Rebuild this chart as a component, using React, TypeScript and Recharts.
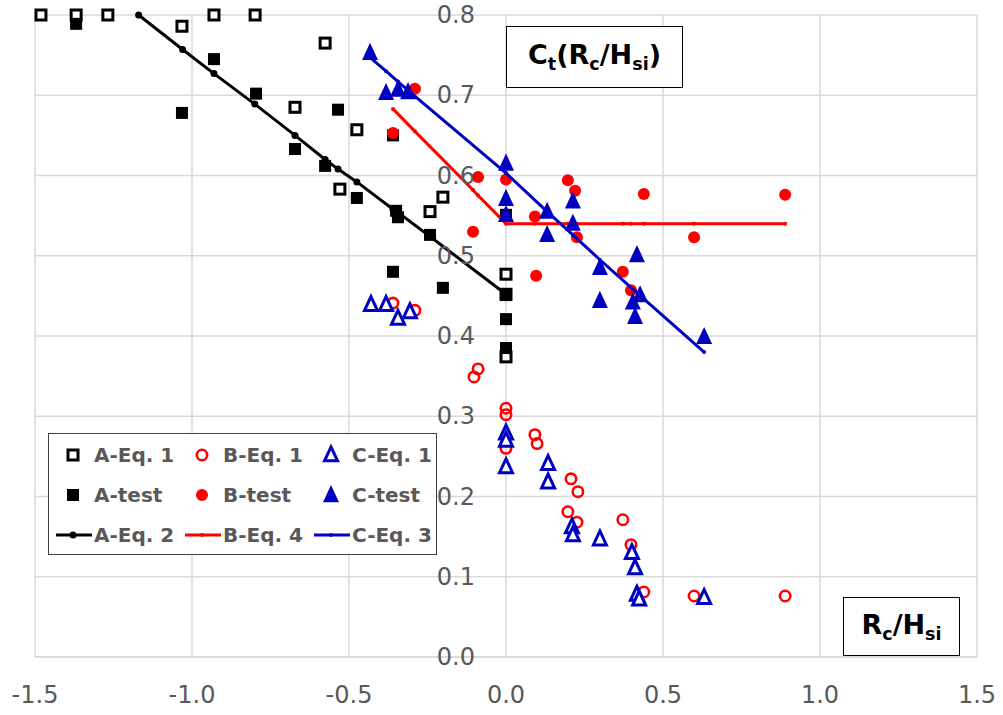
import React from 'react';
import {
  CartesianGrid,
  Scatter,
  ScatterChart,
  XAxis,
  YAxis,
} from 'recharts';

const X_TICKS = [-1.5, -1.0, -0.5, 0.0, 0.5, 1.0, 1.5];
const Y_TICKS = [0, 0.1, 0.2, 0.3, 0.4, 0.5, 0.6, 0.7, 0.8];

// A series (black)
const aEq1X = [-1.481, -1.369, -1.268, -1.032, -0.93, -0.799, -0.576, -0.672, -0.475, -0.529, -0.242, -0.201, 0, 0, 0];
const aEq1Y = [0.8, 0.8, 0.8, 0.786, 0.8, 0.8, 0.765, 0.685, 0.657, 0.583, 0.555, 0.573, 0.477, 0.452, 0.374];

const aTestX = [-1.369, -0.93, -1.032, -0.796, -0.672, -0.576, -0.535, -0.475, -0.36, -0.35, -0.344, -0.242, -0.36, -0.201, 0, 0, 0, 0];
const aTestY = [0.789, 0.745, 0.678, 0.702, 0.633, 0.612, 0.682, 0.572, 0.65, 0.556, 0.548, 0.526, 0.48, 0.46, 0.451, 0.421, 0.385, 0.551];

const aEq2X = [-1.17, -1.03, -0.93, -0.8, -0.672, -0.576, -0.535, -0.475, -0.36, -0.344, -0.242, 0];
const aEq2Y = [0.8, 0.757, 0.727, 0.689, 0.65, 0.62, 0.608, 0.592, 0.558, 0.554, 0.524, 0.452];

// B series (red)
const bEq1X = [-0.36, -0.29, -0.089, -0.102, 0, 0, 0, 0.092, 0.099, 0.207, 0.229, 0.197, 0.226, 0.372, 0.398, 0.439, 0.599, 0.889];
const bEq1Y = [0.441, 0.432, 0.359, 0.349, 0.31, 0.302, 0.26, 0.277, 0.266, 0.222, 0.206, 0.181, 0.168, 0.171, 0.14, 0.081, 0.076, 0.076];

const bTestX = [-0.29, -0.36, -0.089, 0, -0.105, 0.092, 0.197, 0.22, 0.226, 0.439, 0.599, 0.889, 0.096, 0.372, 0.398];
const bTestY = [0.708, 0.653, 0.598, 0.595, 0.53, 0.549, 0.594, 0.581, 0.523, 0.577, 0.523, 0.576, 0.475, 0.48, 0.457];

const bEq4X = [-0.36, -0.29, -0.105, -0.089, 0, 0.092, 0.197, 0.226, 0.372, 0.398, 0.439, 0.599, 0.889];
const bEq4Y = [0.683, 0.655, 0.582, 0.575, 0.54, 0.54, 0.54, 0.54, 0.54, 0.54, 0.54, 0.54, 0.54];

// C series (blue)
const cEq1X = [-0.43, -0.382, -0.344, -0.306, 0, 0, 0, 0.134, 0.134, 0.21, 0.213, 0.299, 0.401, 0.411, 0.417, 0.424, 0.631];
const cEq1Y = [0.439, 0.439, 0.422, 0.43, 0.279, 0.27, 0.237, 0.241, 0.218, 0.162, 0.152, 0.147, 0.13, 0.111, 0.078, 0.072, 0.074];

const cTestX = [-0.433, -0.382, -0.344, -0.312, 0, 0, 0, 0.131, 0.131, 0.213, 0.213, 0.299, 0.299, 0.417, 0.404, 0.427, 0.411, 0.631];
const cTestY = [0.753, 0.703, 0.707, 0.704, 0.615, 0.571, 0.551, 0.555, 0.526, 0.568, 0.54, 0.485, 0.444, 0.501, 0.442, 0.451, 0.424, 0.399];

const cEq3X = [-0.439, -0.382, -0.344, -0.312, 0, 0.131, 0.213, 0.299, 0.411, 0.631];
const cEq3Y = [0.749, 0.73, 0.717, 0.706, 0.603, 0.555, 0.526, 0.495, 0.456, 0.38];

const BLACK = '#000000';
const RED = '#ff0000';
const BLUE = '#0000c0';
const GRAY_TEXT = '#595959';

const toPoints = (xs: number[], ys: number[]) => xs.map((x, i) => ({ x, y: ys[i] }));

// marker shapes
const OpenSquare = ({ cx, cy }: any) => (
  <rect x={cx - 5} y={cy - 5} width={10} height={10} fill='#fff' stroke={BLACK} strokeWidth={3} />
);
const FilledSquare = ({ cx, cy }: any) => (
  <rect x={cx - 6} y={cy - 6} width={12} height={12} fill={BLACK} />
);
const OpenCircle = ({ cx, cy }: any) => (
  <circle cx={cx} cy={cy} r={5.2} fill='none' stroke={RED} strokeWidth={2.6} />
);
const FilledCircle = ({ cx, cy }: any) => <circle cx={cx} cy={cy} r={6} fill={RED} />;
const triPath = (cx: number, cy: number, s: number) =>
  `M${cx},${cy - s * 0.62} L${cx + s / 2},${cy + s * 0.45} L${cx - s / 2},${cy + s * 0.45} Z`;
const OpenTriangle = ({ cx, cy }: any) => (
  <path d={triPath(cx, cy, 13)} fill='#fff' stroke={BLUE} strokeWidth={3} strokeLinejoin='miter' />
);
const FilledTriangle = ({ cx, cy }: any) => <path d={triPath(cx, cy, 16)} fill={BLUE} />;
const dotShape = (color: string, r: number) => ({ cx, cy }: any) => (
  <circle cx={cx} cy={cy} r={r} fill={color} />
);

// y labels sit beside the x = 0 gridline, as in the original
const YTick = ({ y, payload }: any) => (
  <text
    x={475}
    y={y}
    textAnchor='end'
    dominantBaseline='central'
    fill={GRAY_TEXT}
    fontSize={24}
    fontFamily='DejaVu Sans'
  >
    {Number(payload.value).toFixed(1)}
  </text>
);

const XTick = ({ x, payload }: any) => (
  <text
    x={x}
    y={695}
    textAnchor='middle'
    dominantBaseline='central'
    fill={GRAY_TEXT}
    fontSize={24}
    fontFamily='DejaVu Sans'
  >
    {Number(payload.value).toFixed(1)}
  </text>
);

const LEGEND_ROWS = [
  ['A-Eq. 1', 'B-Eq. 1', 'C-Eq. 1'],
  ['A-test', 'B-test', 'C-test'],
  ['A-Eq. 2', 'B-Eq. 4', 'C-Eq. 3'],
];

const legendIcon = (row: number, col: number) => {
  const color = [BLACK, RED, BLUE][col];
  const cx = 24;
  const cy = 12;
  if (row === 2) {
    return (
      <g>
        <line x1={7} y1={cy} x2={43} y2={cy} stroke={color} strokeWidth={3} />
        <circle cx={cx} cy={cy} r={col === 0 ? 3.5 : 2} fill={color} />
      </g>
    );
  }
  const open = row === 0;
  if (col === 0) return open ? <OpenSquare cx={cx} cy={cy} /> : <FilledSquare cx={cx} cy={cy} />;
  if (col === 1) return open ? <OpenCircle cx={cx} cy={cy} /> : <FilledCircle cx={cx} cy={cy} />;
  return open ? <OpenTriangle cx={cx} cy={cy} /> : <FilledTriangle cx={cx} cy={cy} />;
};

const ChartLegend = () => (
  <div
    style={{
      position: 'absolute',
      left: 48,
      top: 433,
      border: '1px solid #404040',
      background: '#fff',
      width: 389,
      height: 122,
      boxSizing: 'border-box',
      paddingTop: 1,
    }}
  >
    {LEGEND_ROWS.map((row, ri) => (
      <div key={ri} style={{ display: 'flex', height: 40, alignItems: 'center' }}>
        {row.map((label, ci) => (
          <div key={label} style={{ display: 'flex', alignItems: 'center', width: 129 }}>
            <svg width={45} height={24} style={{ flex: 'none' }}>
              {legendIcon(ri, ci)}
            </svg>
            <span
              style={{
                fontFamily: 'DejaVu Sans',
                fontWeight: 'bold',
                fontSize: 20,
                color: GRAY_TEXT,
                whiteSpace: 'nowrap',
              }}
            >
              {label}
            </span>
          </div>
        ))}
      </div>
    ))}
  </div>
);

const boxStyle: React.CSSProperties = {
  position: 'absolute',
  border: '1px solid #000',
  background: '#fff',
  boxSizing: 'border-box',
  display: 'flex',
  alignItems: 'center',
  justifyContent: 'center',
  fontFamily: 'DejaVu Sans',
  fontWeight: 'bold',
  color: '#000',
};

export default function App() {
  return (
    <div style={{ position: 'absolute', left: 0, top: 0, width: 1003, height: 715, background: '#fff' }}>
      <ScatterChart width={1003} height={715} margin={{ top: 15, right: 26, bottom: 0, left: 0 }}>
        <CartesianGrid stroke='#d9d9d9' strokeWidth={1.5} />
        <XAxis
          type='number'
          dataKey='x'
          domain={[-1.5, 1.5]}
          ticks={X_TICKS}
          height={58}
          axisLine={{ stroke: '#d9d9d9', strokeWidth: 1.5 }}
          tickLine={false}
          tick={<XTick />}
          interval={0}
        />
        <YAxis
          type='number'
          dataKey='y'
          domain={[0, 0.8]}
          ticks={Y_TICKS}
          width={35}
          axisLine={false}
          tickLine={false}
          tick={<YTick />}
          interval={0}
        />
        <Scatter name='A-Eq. 1' data={toPoints(aEq1X, aEq1Y)} shape={OpenSquare} isAnimationActive={false} />
        <Scatter name='A-test' data={toPoints(aTestX, aTestY)} shape={FilledSquare} isAnimationActive={false} />
        <Scatter
          name='A-Eq. 2'
          data={toPoints(aEq2X, aEq2Y)}
          fill={BLACK}
          line={{ stroke: BLACK, strokeWidth: 3 }}
          shape={dotShape(BLACK, 3.5)}
          isAnimationActive={false}
        />
        <Scatter name='B-Eq. 1' data={toPoints(bEq1X, bEq1Y)} shape={OpenCircle} isAnimationActive={false} />
        <Scatter name='B-test' data={toPoints(bTestX, bTestY)} shape={FilledCircle} isAnimationActive={false} />
        <Scatter
          name='B-Eq. 4'
          data={toPoints(bEq4X, bEq4Y)}
          fill={RED}
          line={{ stroke: RED, strokeWidth: 3 }}
          shape={dotShape(RED, 2)}
          isAnimationActive={false}
        />
        <Scatter name='C-Eq. 1' data={toPoints(cEq1X, cEq1Y)} shape={OpenTriangle} isAnimationActive={false} />
        <Scatter name='C-test' data={toPoints(cTestX, cTestY)} shape={FilledTriangle} isAnimationActive={false} />
        <Scatter
          name='C-Eq. 3'
          data={toPoints(cEq3X, cEq3Y)}
          fill={BLUE}
          line={{ stroke: BLUE, strokeWidth: 3 }}
          shape={dotShape(BLUE, 2)}
          isAnimationActive={false}
        />
      </ScatterChart>

      <ChartLegend />

      <div style={{ ...boxStyle, left: 506, top: 26, width: 177, height: 62, fontSize: 27 }}>
        <span>
          C<sub style={{ fontSize: '0.65em' }}>t</sub>(R<sub style={{ fontSize: '0.65em' }}>c</sub>/H
          <sub style={{ fontSize: '0.65em' }}>si</sub>)
        </span>
      </div>
      <div style={{ ...boxStyle, left: 843, top: 597, width: 117, height: 59, fontSize: 27 }}>
        <span>
          R<sub style={{ fontSize: '0.65em' }}>c</sub>/H<sub style={{ fontSize: '0.65em' }}>si</sub>
        </span>
      </div>
    </div>
  );
}
